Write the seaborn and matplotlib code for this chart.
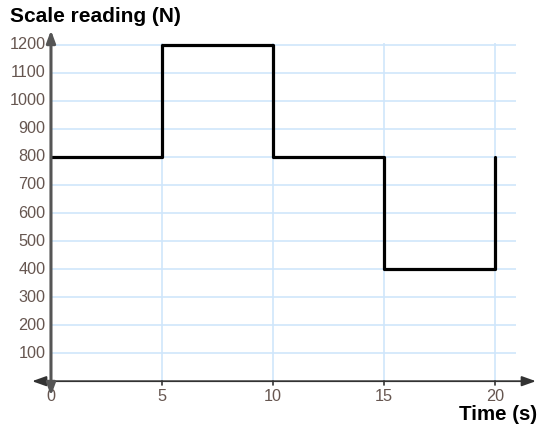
import matplotlib
matplotlib.use("Agg")
import matplotlib.pyplot as plt
import seaborn as sns
import pandas as pd

# Step data: scale reading over time
time_s = [0, 5, 10, 15, 20]
reading_n = [800, 1200, 800, 400, 800]
x_ticks = [0, 5, 10, 15, 20]
y_ticks = [100, 200, 300, 400, 500, 600, 700, 800, 900, 1000, 1100, 1200]

sns.set_theme(style="white")
plt.rcParams["font.family"] = ["Liberation Sans", "DejaVu Sans"]

fig = plt.figure(figsize=(5.38, 4.29), dpi=100)
ax = fig.add_axes([31 / 538, 1 - 398 / 429, 506 / 538, 370 / 429])
ax.set_xlim(-0.9, 21.9)
ax.set_ylim(-60, 1260)
for s in ax.spines.values():
    s.set_visible(False)

grid_c = "#cfe6fb"
ax.hlines(y_ticks, 0, 20.95, color=grid_c, lw=1.2, zorder=1)
ax.vlines(x_ticks[1:], 0, 1208, color=grid_c, lw=1.2, zorder=1)

df = pd.DataFrame({"t": time_s, "F": reading_n})
sns.lineplot(data=df, x="t", y="F", drawstyle="steps-post", color="black",
             lw=2.3, ax=ax, zorder=3)

# axes with arrows
ax.annotate("", xy=(21.85, 0), xytext=(-0.85, 0), annotation_clip=False,
            arrowprops=dict(arrowstyle="<|-|>,head_length=0.7,head_width=0.25",
                            color="#333333", lw=1.3, shrinkA=0, shrinkB=0), zorder=4)
ax.annotate("", xy=(0, 1252), xytext=(0, -52), annotation_clip=False,
            arrowprops=dict(arrowstyle="<|-|>,head_length=0.6,head_width=0.22",
                            color="#555555", lw=2.2, shrinkA=0, shrinkB=0), zorder=4)

ax.set_xticks([])
ax.set_yticks([])
ax.set_xlabel("")
ax.set_ylabel("")

lab_c = "#665650"
for v in y_ticks:
    ax.text(-0.25, v, str(v), ha="right", va="center", fontsize=11.7, color=lab_c)
for v in x_ticks:
    ax.text(v, -28, str(v), ha="center", va="top", fontsize=11.7, color=lab_c)
    if v > 0:
        ax.plot([v, v], [0, -14], color="#333333", lw=1.2, zorder=4)

fig.text(10 / 538, 1 - 17 / 429, "Scale reading (N)", fontsize=15,
         fontweight="bold", ha="left", va="center", color="black")
fig.text(537 / 538, 1 - 415 / 429, "Time (s)", fontsize=14.8,
         fontweight="bold", ha="right", va="center", color="black")

fig.savefig("out.png", dpi=100)
